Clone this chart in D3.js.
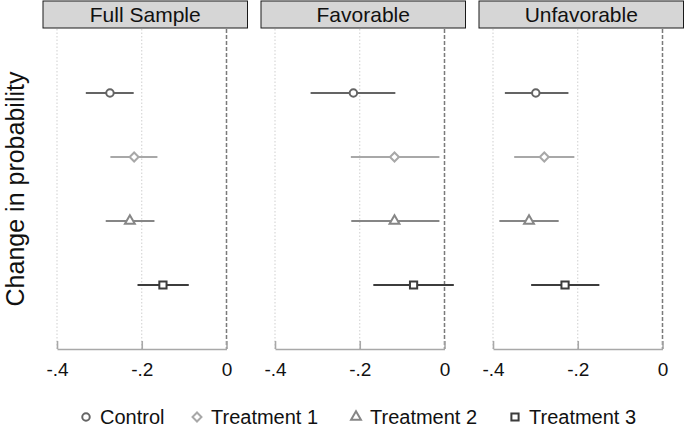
<!DOCTYPE html>
<html>
<head>
<meta charset="utf-8">
<script src="https://cdn.jsdelivr.net/npm/d3@7"></script>
<style>
  body { margin: 0; background: #fff; }
  svg { font-family: "Liberation Sans", Arial, Helvetica, sans-serif; }
</style>
</head>
<body>
<div id="chart"></div>
<script>
const panels = ["Full Sample", "Favorable", "Unfavorable"];
const groups = ["Control", "Treatment 1", "Treatment 2", "Treatment 3"];

// point estimates and confidence bounds, one row per panel, in group order
const estimate = [
  [-0.275, -0.218, -0.228, -0.150],
  [-0.215, -0.118, -0.118, -0.073],
  [-0.299, -0.279, -0.315, -0.230]
];
const lower = [
  [-0.332, -0.274, -0.285, -0.210],
  [-0.316, -0.221, -0.220, -0.168],
  [-0.372, -0.350, -0.385, -0.310]
];
const upper = [
  [-0.219, -0.163, -0.170, -0.089],
  [-0.116, -0.012, -0.012, 0.022],
  [-0.222, -0.208, -0.245, -0.149]
];
const ticks = [-0.4, -0.2, 0];
const tickLabels = ["-.4", "-.2", "0"];

const w = 685;
const h = 428;
const colors = ["#646464", "#a8a8a8", "#868686", "#3c3c3c"];
const shapes = [d3.symbolCircle, d3.symbolSquare, d3.symbolTriangle, d3.symbolSquare];
const sizes = [44, 40, 42, 52];
const rotate = [0, 45, 0, 0];

const svg = d3.select("#chart").append("svg").attr("width", w).attr("height", h);

const plotTop = 29;
const plotBottom = 349;
const y = d3.scaleLinear().domain([0, 5]).range([plotTop, plotBottom]);

panels.forEach((name, p) => {
  const left = 57 + p * 218;
  const x = d3.scaleLinear().domain([-0.4, 0]).range([left, left + 169.5]);
  const g = svg.append("g");

  // header strip
  g.append("rect")
    .attr("x", x(-0.4) - 14)
    .attr("y", 1)
    .attr("width", x(0) + 21 - (x(-0.4) - 14))
    .attr("height", 27)
    .attr("fill", "#d6d6d6")
    .attr("stroke", "#1a1a1a")
    .attr("stroke-width", 1);
  g.append("text")
    .attr("x", (x(-0.4) - 14 + x(0) + 21) / 2)
    .attr("y", 22)
    .attr("text-anchor", "middle")
    .attr("font-size", 21)
    .attr("fill", "#111")
    .text(name);

  // grid lines
  ticks.forEach((t) => {
    g.append("line")
      .attr("x1", x(t)).attr("x2", x(t))
      .attr("y1", plotTop).attr("y2", plotBottom)
      .attr("stroke", t === 0 ? "#7a7a7a" : "#cfcfcf")
      .attr("stroke-width", t === 0 ? 1.5 : 1)
      .attr("stroke-dasharray", t === 0 ? "4,2" : "1.5,2");
  });

  // axis
  const axis = d3.axisBottom(x)
    .tickValues(ticks)
    .tickFormat((d, i) => tickLabels[i])
    .tickSizeInner(-8)
    .tickSizeOuter(0)
    .tickPadding(14);
  const ax = g.append("g").attr("transform", "translate(0," + plotBottom + ")").call(axis);
  ax.select(".domain").attr("stroke", "#a8a8a8").attr("stroke-width", 1.6);
  ax.selectAll(".tick line").attr("stroke", "#a8a8a8").attr("stroke-width", 1.6);
  ax.selectAll(".tick text")
    .attr("font-size", 19)
    .attr("fill", "#111")
    .attr("font-family", "Liberation Sans, Arial, sans-serif");

  // confidence intervals
  g.selectAll(".ci")
    .data(groups)
    .enter()
    .append("line")
    .attr("class", "ci")
    .attr("x1", (d, i) => x(lower[p][i]))
    .attr("x2", (d, i) => x(upper[p][i]))
    .attr("y1", (d, i) => y(i + 1))
    .attr("y2", (d, i) => y(i + 1))
    .attr("stroke", (d, i) => colors[i])
    .attr("stroke-width", 2.2);

  // markers
  g.selectAll(".pt")
    .data(groups)
    .enter()
    .append("path")
    .attr("class", "pt")
    .attr("d", (d, i) => d3.symbol().type(shapes[i]).size(sizes[i])())
    .attr("transform", (d, i) =>
      "translate(" + x(estimate[p][i]) + "," + y(i + 1) + ") rotate(" + rotate[i] + ")")
    .attr("fill", "#fff")
    .attr("stroke", (d, i) => colors[i])
    .attr("stroke-width", 2);
});

// y axis title
svg.append("text")
  .attr("transform", "translate(24," + (plotTop + plotBottom) / 2 + ") rotate(-90)")
  .attr("text-anchor", "middle")
  .attr("font-size", 25)
  .attr("fill", "#111")
  .text("Change in probability");

// legend
const legendX = [86, 197, 356, 515];
const legend = svg.append("g");
groups.forEach((name, i) => {
  legend.append("path")
    .attr("d", d3.symbol().type(shapes[i]).size(sizes[i])())
    .attr("transform", "translate(" + legendX[i] + ",417) rotate(" + rotate[i] + ")")
    .attr("fill", "#fff")
    .attr("stroke", colors[i])
    .attr("stroke-width", 2);
  legend.append("text")
    .attr("x", legendX[i] + 14)
    .attr("y", 424)
    .attr("font-size", 20)
    .attr("fill", "#111")
    .text(name);
});
</script>
</body>
</html>
